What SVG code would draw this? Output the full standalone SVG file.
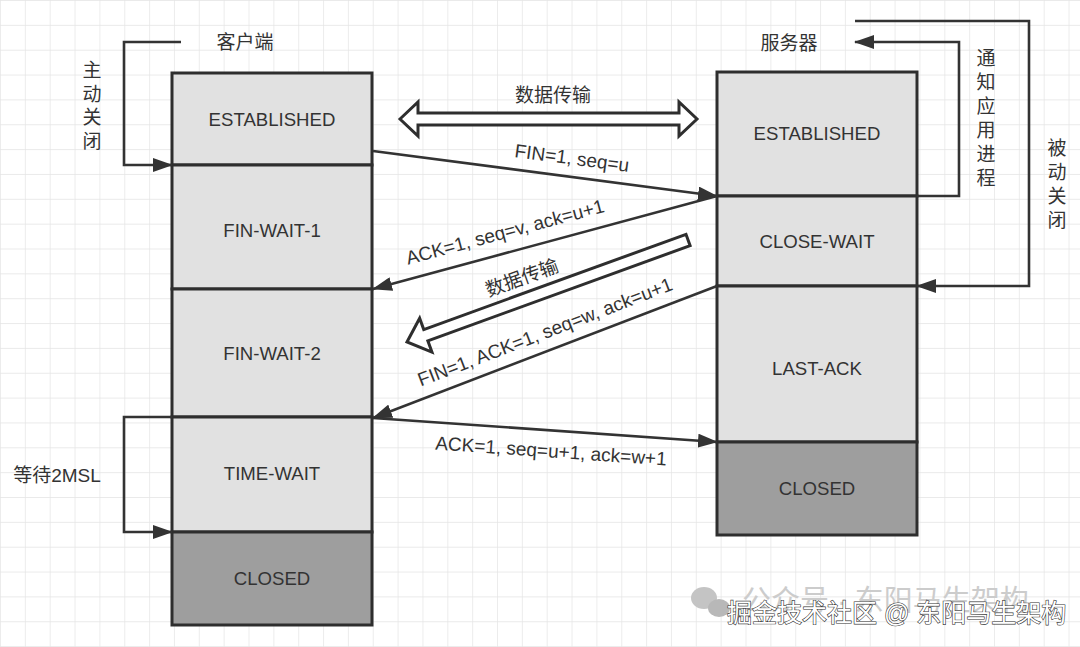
<svg xmlns="http://www.w3.org/2000/svg" width="1080" height="647" viewBox="0 0 1080 647">
<defs>
<pattern id="grid" width="24.85" height="24.85" patternUnits="userSpaceOnUse">
<path d="M0,0 H24.85 M0,0 V24.85" fill="none" stroke="#e4e4e4" stroke-width="1.4"/>
</pattern>
<marker id="ah" viewBox="0 0 20 14" refX="19" refY="7" markerWidth="20" markerHeight="14" markerUnits="userSpaceOnUse" orient="auto">
<path d="M0,0 L20,7 L0,14 z" fill="#333"/>
</marker>
<style>
text{font-family:"Liberation Sans","Noto Sans CJK SC",sans-serif;fill:#333;}
.st{font-size:18.6px;text-anchor:middle;dominant-baseline:central;}
.lb{font-size:19px;text-anchor:middle;dominant-baseline:central;}
.box{stroke:#2e2e2e;stroke-width:3;}
.lt{fill:#e1e1e1;}
.dk{fill:#9e9e9e;}
.cn{fill:none;stroke:#333;stroke-width:2.6;}
.hol{fill:#fff;stroke:#2e2e2e;stroke-width:3;stroke-linejoin:miter;}
</style>
</defs>
<rect width="1080" height="647" fill="#fff"/>
<rect width="1080" height="647" fill="url(#grid)"/>

<g id="client-label"><text class="lb" x="245" y="42">客户端</text></g>
<g id="server-label"><text class="lb" x="789" y="43">服务器</text></g>

<g id="c-established"><rect class="box lt" x="172" y="73" width="200" height="92"/><text class="st" x="272" y="119">ESTABLISHED</text></g>
<g id="c-finwait1"><rect class="box lt" x="172" y="165" width="200" height="124"/><text class="st" x="272" y="230">FIN-WAIT-1</text></g>
<g id="c-finwait2"><rect class="box lt" x="172" y="289" width="200" height="128"/><text class="st" x="272" y="353">FIN-WAIT-2</text></g>
<g id="c-timewait"><rect class="box lt" x="172" y="417" width="200" height="115"/><text class="st" x="272" y="473">TIME-WAIT</text></g>
<g id="c-closed"><rect class="box dk" x="172" y="532" width="200" height="93"/><text class="st" x="272" y="578">CLOSED</text></g>

<g id="s-established"><rect class="box lt" x="717" y="72" width="200" height="124"/><text class="st" x="817" y="133">ESTABLISHED</text></g>
<g id="s-closewait"><rect class="box lt" x="717" y="196" width="200" height="90"/><text class="st" x="817" y="241">CLOSE-WAIT</text></g>
<g id="s-lastack"><rect class="box lt" x="717" y="286" width="200" height="156"/><text class="st" x="817" y="368">LAST-ACK</text></g>
<g id="s-closed"><rect class="box dk" x="717" y="442" width="200" height="93"/><text class="st" x="817" y="488">CLOSED</text></g>

<g id="connectors">
<path class="cn" d="M181,42 H124 V165 H172" marker-end="url(#ah)"/>
<path class="cn" d="M172,417 H124 V532 H172" marker-end="url(#ah)"/>
<path class="cn" d="M917,196 H959 V42 H855" marker-end="url(#ah)"/>
<path class="cn" d="M855,21 H1029 V286 H917" marker-end="url(#ah)"/>
<path class="cn" d="M373,151 L717,196" marker-end="url(#ah)"/>
<path class="cn" d="M717,196 L373,289" marker-end="url(#ah)"/>
<path class="cn" d="M717,286 L373,418" marker-end="url(#ah)"/>
<path class="cn" d="M373,418 L717,442" marker-end="url(#ah)"/>
<path class="hol" d="M400,119 L418,102 V113 H679 V102 L697,119 L679,136 V125 H418 V136 Z"/>
<path class="hol" transform="translate(407,342) rotate(-19.95)" d="M0,0 L20,-18 V-6 H299 V6 H20 V18 Z"/>
</g>

<g id="labels">
<text class="lb" x="553" y="95">数据传输</text>
<text class="lb" transform="translate(572,158) rotate(7.5)">FIN=1, seq=u</text>
<text class="lb" transform="translate(505,232) rotate(-15)">ACK=1, seq=v, ack=u+1</text>
<text class="lb" transform="translate(522,278) rotate(-20)">数据传输</text>
<text class="lb" transform="translate(545,332) rotate(-21)">FIN=1, ACK=1, seq=w, ack=u+1</text>
<text class="lb" transform="translate(551,451) rotate(4)">ACK=1, seq=u+1, ack=w+1</text>
<text class="lb" x="57" y="475">等待2MSL</text>
<text class="lb" x="92"><tspan x="92" y="70">主</tspan><tspan x="92" y="94">动</tspan><tspan x="92" y="117">关</tspan><tspan x="92" y="141">闭</tspan></text>
<text class="lb" x="986"><tspan x="986" y="58">通</tspan><tspan x="986" y="82">知</tspan><tspan x="986" y="106">应</tspan><tspan x="986" y="130">用</tspan><tspan x="986" y="154">进</tspan><tspan x="986" y="178">程</tspan></text>
<text class="lb" x="1057"><tspan x="1057" y="148">被</tspan><tspan x="1057" y="172">动</tspan><tspan x="1057" y="196">关</tspan><tspan x="1057" y="220">闭</tspan></text>
</g>

<g id="watermark">
<ellipse cx="704" cy="598" rx="13" ry="11" fill="#c4c4c4"/>
<ellipse cx="719" cy="608" rx="11" ry="9" fill="#b8b8b8"/>
<text x="742" y="611" style="font-size:29px;fill:#cccccc;">公众号 · 东阳马生架构</text>
<text x="727" y="622" style="font-size:25px;fill:#ffffff;stroke:#333;stroke-width:1.2px;paint-order:stroke;">掘金技术社区 @ 东阳马生架构</text>
</g>
</svg>
